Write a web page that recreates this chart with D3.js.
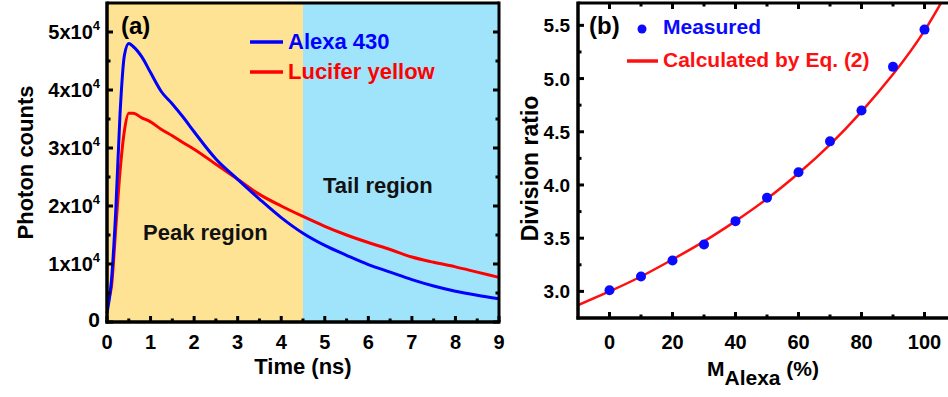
<!DOCTYPE html>
<html>
<head>
<meta charset="utf-8">
<script src="https://cdn.jsdelivr.net/npm/d3@7"></script>
<style>
  body { margin: 0; background: #fff; }
  svg { font-family: "Liberation Sans", Arial, sans-serif; font-weight: bold; }
</style>
</head>
<body>
<div id="chart"></div>
<script>
// panel (a): decay curves (photon counts in units of 1e4)
const timeNs = [0, 0.1, 0.2, 0.3, 0.4, 0.5, 0.6, 0.8, 1.0, 1.25, 1.5, 1.75, 2.0, 2.5, 3.0, 3.5, 4.0, 4.5, 5.0, 5.5, 6.0, 6.5, 7.0, 7.5, 8.0, 8.5, 9.0];
const alexaCounts = [0.15, 0.7, 1.9, 3.6, 4.6, 4.8, 4.75, 4.57, 4.3, 3.97, 3.76, 3.53, 3.28, 2.81, 2.46, 2.12, 1.8, 1.53, 1.32, 1.15, 0.99, 0.86, 0.73, 0.62, 0.53, 0.46, 0.4];
const luciferCounts = [0.34, 0.6, 1.6, 2.6, 3.3, 3.6, 3.6, 3.52, 3.45, 3.32, 3.21, 3.09, 2.98, 2.72, 2.46, 2.2, 2.0, 1.82, 1.65, 1.5, 1.37, 1.25, 1.12, 1.03, 0.95, 0.86, 0.77];
const regions = [
  { name: 'Peak region', from: 0, to: 4.5, color: '#ffe394' },
  { name: 'Tail region', from: 4.5, to: 9, color: '#a0e4fc' }
];
const countTicks = [0, 1, 2, 3, 4, 5];

// panel (b): division ratio vs M_Alexa
const mAlexa = [0, 10, 20, 30, 40, 50, 60, 70, 80, 90, 100];
const measuredRatio = [3.01, 3.14, 3.29, 3.44, 3.66, 3.88, 4.12, 4.41, 4.70, 5.11, 5.46];
const calcX = [-10, 0, 10, 20, 30, 40, 50, 60, 70, 80, 90, 100, 110];
const calcRatio = [2.87, 3.0, 3.14, 3.30, 3.47, 3.66, 3.87, 4.11, 4.38, 4.69, 5.04, 5.45, 5.96];
const ratioTicks = [3.0, 3.5, 4.0, 4.5, 5.0, 5.5];
const mTicks = [0, 20, 40, 60, 80, 100];

const svg = d3.select('#chart').append('svg')
  .attr('width', 948).attr('height', 397);

function frameTicks(g, x, y, xMajor, xMinor, yMajor, yMinor, w, h, sides) {
  const major = 6, minor = 3.5;
  const tick = (x1, y1, x2, y2) => g.append('line')
    .attr('x1', x1).attr('y1', y1).attr('x2', x2).attr('y2', y2)
    .attr('stroke', '#000').attr('stroke-width', 3);
  xMajor.forEach(v => {
    tick(x(v), h, x(v), h - major);
    if (sides.top) tick(x(v), 0, x(v), major);
  });
  xMinor.forEach(v => {
    tick(x(v), h, x(v), h - minor);
    if (sides.top) tick(x(v), 0, x(v), minor);
  });
  yMajor.forEach(v => {
    tick(0, y(v), major, y(v));
    if (sides.right) tick(w, y(v), w - major, y(v));
  });
  yMinor.forEach(v => {
    tick(0, y(v), minor, y(v));
    if (sides.right) tick(w, y(v), w - minor, y(v));
  });
}

// ---------- panel (a) ----------
{
  const left = 107, top = 3, w = 392, h = 319;
  const g = svg.append('g').attr('transform', `translate(${left},${top})`);
  const x = d3.scaleLinear().domain([0, 9]).range([0, w]);
  const y = d3.scaleLinear().domain([0, 5.5]).range([h, 0]);

  g.selectAll('.region').data(regions).enter().append('rect')
    .attr('x', d => x(d.from)).attr('y', 0)
    .attr('width', d => x(d.to) - x(d.from)).attr('height', h)
    .attr('fill', d => d.color);

  const line = d3.line().x((d, i) => x(timeNs[i])).y(d => y(d)).curve(d3.curveMonotoneX);
  g.append('path').datum(luciferCounts).attr('d', line)
    .attr('fill', 'none').attr('stroke', '#ff0000').attr('stroke-width', 3);
  g.append('path').datum(alexaCounts).attr('d', line)
    .attr('fill', 'none').attr('stroke', '#0000ff').attr('stroke-width', 3);

  g.append('line').attr('x1', 0).attr('x2', 0).attr('y1', -1.5).attr('y2', h + 1.5)
    .attr('stroke', '#000').attr('stroke-width', 3.5);
  g.append('line').attr('x1', -1.5).attr('x2', w + 1.5).attr('y1', h).attr('y2', h)
    .attr('stroke', '#000').attr('stroke-width', 3.5);
  g.append('line').attr('x1', w).attr('x2', w).attr('y1', -1.5).attr('y2', h)
    .attr('stroke', '#000').attr('stroke-width', 3);
  g.append('line').attr('x1', 0).attr('x2', w).attr('y1', 0).attr('y2', 0)
    .attr('stroke', '#000').attr('stroke-width', 3);

  frameTicks(g, x, y, d3.range(0, 10), d3.range(0.5, 9, 1), countTicks, [0.5, 1.5, 2.5, 3.5, 4.5], w, h, { right: true });

  // axis labels
  g.selectAll('.xl').data(d3.range(0, 10)).enter().append('text')
    .attr('x', d => x(d)).attr('y', h + 27)
    .attr('text-anchor', 'middle').attr('font-size', 20).text(d => d);
  countTicks.forEach(v => {
    const t = g.append('text').attr('x', -7).attr('y', y(v) + 7)
      .attr('text-anchor', 'end').attr('font-size', 20);
    if (v === 0) { t.attr('font-size', 21).attr('y', y(v) + 5).text('0'); return; }
    t.append('tspan').text(`${v}x10`);
    t.append('tspan').attr('font-size', 13).attr('dy', -9).text('4');
  });
  g.append('text').attr('x', x(4.5)).attr('y', h + 52)
    .attr('text-anchor', 'middle').attr('font-size', 22).text('Time (ns)');
  g.append('text').attr('transform', `translate(${-74},${h / 2})rotate(-90)`)
    .attr('text-anchor', 'middle').attr('font-size', 22).text('Photon counts');

  g.append('text').attr('x', 14).attr('y', 31).attr('font-size', 24).text('(a)');
  g.append('text').attr('x', 36).attr('y', 237).attr('font-size', 22).attr('fill', '#111').text(regions[0].name);
  g.append('text').attr('x', 216).attr('y', 190).attr('font-size', 22).attr('fill', '#111').text(regions[1].name);

  const legend = [
    { label: 'Alexa 430', color: '#0000ff', y: 39 },
    { label: 'Lucifer yellow', color: '#ff0000', y: 69 }
  ];
  legend.forEach(d => {
    g.append('line').attr('x1', 143).attr('x2', 176).attr('y1', d.y).attr('y2', d.y)
      .attr('stroke', d.color).attr('stroke-width', 3.5);
    g.append('text').attr('x', 181).attr('y', d.y + 7).attr('font-size', 22)
      .attr('fill', d.color).text(d.label);
  });
}

// ---------- panel (b) ----------
{
  const left = 578, top = 3, w = 378, h = 315;
  const g = svg.append('g').attr('transform', `translate(${left},${top})`);
  const x = d3.scaleLinear().domain([-10, 110]).range([0, w]);
  const y = d3.scaleLinear().domain([2.75, 5.71]).range([h, 0]);

  g.append('defs').append('clipPath').attr('id', 'clipb')
    .append('rect').attr('width', w).attr('height', h);

  g.append('path').datum(calcRatio)
    .attr('clip-path', 'url(#clipb)')
    .attr('d', d3.line().x((d, i) => x(calcX[i])).y(d => y(d)).curve(d3.curveNatural))
    .attr('fill', 'none').attr('stroke', '#ff1010').attr('stroke-width', 2.5);

  g.selectAll('.pt').data(measuredRatio).enter().append('circle')
    .attr('cx', (d, i) => x(mAlexa[i])).attr('cy', d => y(d)).attr('r', 5)
    .attr('fill', '#0a0aff');

  g.append('line').attr('x1', 0).attr('x2', 0).attr('y1', -1.5).attr('y2', h + 1.5)
    .attr('stroke', '#000').attr('stroke-width', 3.5);
  g.append('line').attr('x1', -1.5).attr('x2', w).attr('y1', h).attr('y2', h)
    .attr('stroke', '#000').attr('stroke-width', 3.5);
  g.append('line').attr('x1', 0).attr('x2', w).attr('y1', 0).attr('y2', 0)
    .attr('stroke', '#000').attr('stroke-width', 3);

  frameTicks(g, x, y, mTicks, [10, 30, 50, 70, 90], ratioTicks, [3.25, 3.75, 4.25, 4.75, 5.25], w, h, { top: true });

  g.selectAll('.xl').data(mTicks).enter().append('text')
    .attr('x', d => x(d)).attr('y', h + 31)
    .attr('text-anchor', 'middle').attr('font-size', 20).text(d => d);
  g.selectAll('.yl').data(ratioTicks).enter().append('text')
    .attr('x', -8).attr('y', d => y(d) + 7)
    .attr('text-anchor', 'end').attr('font-size', 19).text(d => d.toFixed(1));

  const xt = g.append('text').attr('x', x(50) - 4).attr('y', h + 58)
    .attr('text-anchor', 'middle').attr('font-size', 21);
  xt.append('tspan').text('M');
  xt.append('tspan').attr('dy', 9).text('Alexa');
  xt.append('tspan').attr('dy', -9).text(' (%)');
  g.append('text').attr('transform', `translate(${-40},${h / 2 + 8})rotate(-90)`)
    .attr('text-anchor', 'middle').attr('font-size', 23).text('Division ratio');

  g.append('text').attr('x', 11).attr('y', 31).attr('font-size', 24).text('(b)');
  g.append('circle').attr('cx', 64).attr('cy', 26).attr('r', 4.5).attr('fill', '#0a0aff');
  g.append('text').attr('x', 85).attr('y', 31).attr('font-size', 21).attr('fill', '#0a0aff').text('Measured');
  g.append('line').attr('x1', 49).attr('x2', 80).attr('y1', 58).attr('y2', 58)
    .attr('stroke', '#ff1010').attr('stroke-width', 3.5);
  g.append('text').attr('x', 85).attr('y', 64).attr('font-size', 21).attr('fill', '#ff1010').text('Calculated by Eq. (2)');
}
</script>
</body>
</html>
